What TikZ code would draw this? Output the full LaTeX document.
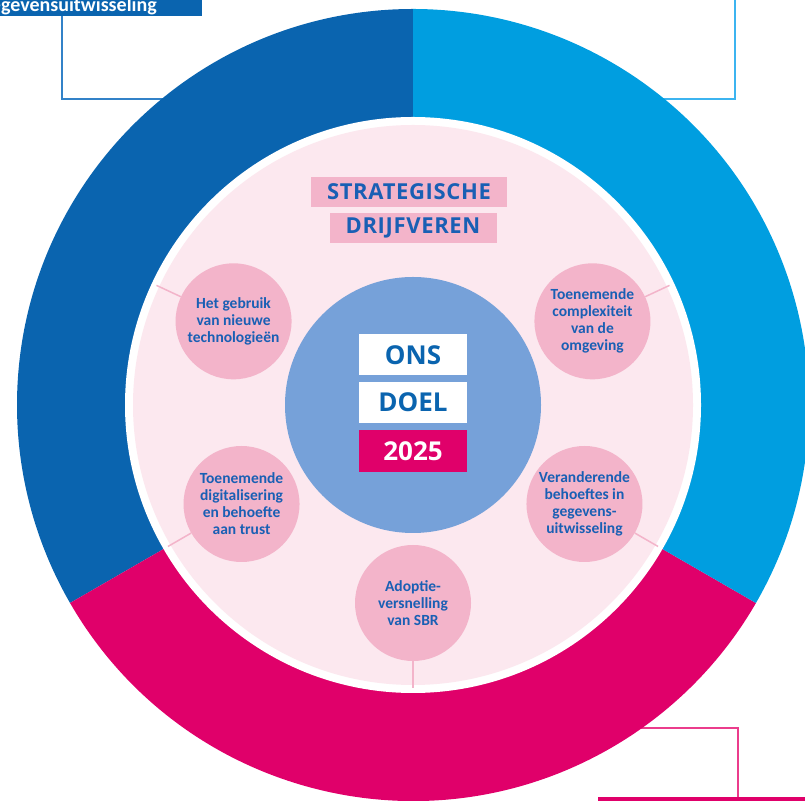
\documentclass[tikz,border=0pt]{standalone}
\usepackage{fontspec}
\setmainfont{Carlito}
\newfontfamily\headfont[LetterSpace=3]{Open Sans}
\newfontfamily\goalfont{Open Sans}
\usetikzlibrary{calc}

\definecolor{darkblue}{RGB}{10,100,175}
\definecolor{lightblue}{RGB}{0,158,224}
\definecolor{sbrpink}{RGB}{224,0,106}
\definecolor{palepink}{RGB}{252,232,239}
\definecolor{rosepink}{RGB}{243,180,202}
\definecolor{midblue}{RGB}{118,161,217}
\definecolor{textblue}{RGB}{25,95,180}

\tikzset{
	driver/.style={circle, fill=rosepink, minimum size=116pt, inner sep=0pt, align=center,
		text=textblue, font=\fontsize{15.5}{17}\selectfont\bfseries},
	titlebox/.style={fill=rosepink, text=textblue, inner sep=0pt, minimum height=30pt,
		font=\headfont\fontsize{22}{22}\selectfont\bfseries},
	goalbox/.style={fill=white, text=darkblue, inner sep=0pt, minimum width=108pt,
		minimum height=41pt, font=\goalfont\fontsize{26}{26}\selectfont\bfseries},
	spoke/.style={rosepink, line width=1.5pt},
	callout/.style={line width=1.6pt},
}

\begin{document}
\begin{tikzpicture}[x=1pt,y=1pt]
	\useasboundingbox (0,0) rectangle (805,800);
	\coordinate (C) at (413,395);
	
	% callouts round the ring
	\node[fill=darkblue, anchor=south west, minimum width=202pt, minimum height=30pt, inner sep=0pt] (tlbox) at (0,784) {};
	\node[anchor=base east, text=white, inner sep=0pt, font=\fontsize{20}{20}\selectfont\bfseries] (tltext) at (157,788.5) {gegevensuitwisseling};
	\coordinate (tlfoot) at (62,784);
	\coordinate (tlrim) at (180,701);
	\draw[callout, color={rgb,255:red,50;green,130;blue,200}] (tlfoot) |- (tlrim);
	
	\coordinate (trtop) at (735,810);
	\coordinate (trrim) at (650,701);
	\draw[callout, color={rgb,255:red,60;green,180;blue,240}] (trtop) |- (trrim);
	
	\node[fill=sbrpink, anchor=north west, minimum width=210pt, minimum height=30pt, inner sep=0pt] (brbox) at (598,3) {};
	\coordinate (brrim) at (625,72);
	\draw[callout, color={rgb,255:red,235;green,60;blue,140}] (brrim) -| ($(brbox.north west)+(140,0)$);
	
	% ring
	\fill[darkblue] (C) -- ++(90:396) arc[start angle=90, end angle=210, radius=396] -- cycle;
	\fill[sbrpink] (C) -- ++(210:396) arc[start angle=210, end angle=330, radius=396] -- cycle;
	\fill[lightblue] (C) -- ++(330:396) arc[start angle=330, end angle=450, radius=396] -- cycle;
	\fill[white] (C) circle[radius=288];
	\fill[palepink] (C) circle[radius=280];
	
	\node[circle, fill=midblue, minimum size=256pt, inner sep=0pt] (goal) at (C) {};
	
	% drivers
	\foreach \ang/\nm/\txt in {155/tech/{Het gebruik\\van nieuwe\\technologieën},
		25/complex/{Toenemende\\complexiteit\\van de\\omgeving},
		210/digital/{Toenemende\\digitalisering\\en behoefte\\aan trust},
		330/needs/{Veranderende\\behoeftes in\\gegevens-\\uitwisseling},
		270/adopt/{Adoptie-\\versnelling\\van SBR}}{
		\node[driver] (\nm) at ($(C)+(\ang:198)$) {\txt};
		\coordinate (\nm-rim) at ($(C)+(\ang:283)$);
		\draw[spoke] (\nm.\ang) -- (\nm-rim);
	}
	
	\node[titlebox, minimum width=196pt] (strat) at (409,608) {STRATEGISCHE};
	\node[titlebox, minimum width=167pt] (drijf) at (413,572) {DRIJFVEREN};
	
	\node[goalbox] (ons) at (413,445) {ONS};
	\node[goalbox] (doel) at (413,397.5) {DOEL};
	\node[goalbox, fill=sbrpink, text=white, minimum height=42pt] (jaar) at (413,349) {2025};
\end{tikzpicture}
\end{document}
